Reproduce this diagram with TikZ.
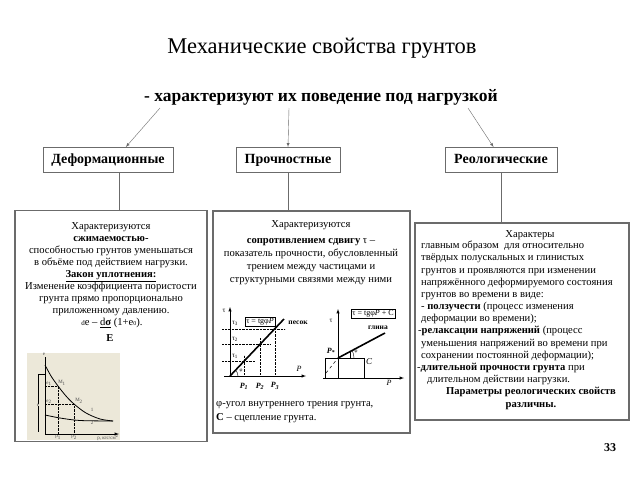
\documentclass[tikz,border=0pt]{standalone}
\usepackage{fontspec}
\setmainfont{Liberation Serif}
\usetikzlibrary{shapes.geometric, arrows}
\definecolor{frame-gray}{gray}{0.42}
\definecolor{paper-beige}{RGB}{236,232,217}

\begin{document}
\begin{tikzpicture}[x=1pt, y=-1pt,
  kindbox/.style={draw=frame-gray, line width=0.9pt, inner sep=0pt, minimum height=25, text height=9.5pt, text depth=3pt, font=\fontsize{14}{16}\selectfont\bfseries},
  panel/.style={draw=frame-gray, line width=1.3pt, inner sep=0pt},
  body/.style={inner sep=0pt, font=\fontsize{10.6}{12}\selectfont},
  graphlabel/.style={inner sep=0.5pt, font=\fontsize{7}{8}\selectfont},
  tinylabel/.style={inner sep=0pt, font=\fontsize{5}{6}\selectfont, text=black!70},
  guideline/.style={densely dotted, line width=0.4pt}]
 \useasboundingbox (0,0) rectangle (640,480);
 \fill[white] (0,0) rectangle (640,480);

 %titles
 \node (title) at (322,48) {\fontsize{22.5}{26}\selectfont Механические свойства грунтов};
 \node (subtitle) at (321,97) [font=\fontsize{17.5}{20}\selectfont\bfseries] {- характеризуют их поведение под нагрузкой};
 \coordinate (fromleft) at (160,108);
 \coordinate (frommid) at (289,108);
 \coordinate (fromright) at (468,108);

 %kinds of properties
 \node (deform) [kindbox, minimum width=130] at (108,160) {Деформационные};
 \node (strength) [kindbox, minimum width=104] at (288,160) {Прочностные};
 \node (rheol) [kindbox, minimum width=112] at (501,160) {Реологические};
 \draw [-latex, frame-gray] (fromleft) -- (deform.36);
 \draw [-latex, frame-gray] (frommid) -- (strength.north);
 \draw [-latex, frame-gray] (fromright) -- (rheol.120);

 %panels
 \node (deformpanel) [panel, minimum width=192, minimum height=231] at (111,326) {};
 \node (strengthpanel) [panel, minimum width=197, minimum height=222] at (311.5,322) {};
 \node (rheolpanel) [panel, minimum width=214, minimum height=197] at (522,321.5) {};
 \draw [frame-gray] (deform.-50) -- (deform.-50 |- deformpanel.north);
 \draw [frame-gray] (strength.south) -- (strength.south |- strengthpanel.north);
 \draw [frame-gray] (rheol.south) -- (rheol.south |- rheolpanel.north);

 %deformation text
 \node (deformtext) [body, align=center, anchor=north] at (111,222.5) {Характеризуются\\ \textbf{сжимаемостью-}\\ способностью грунтов уменьшаться\\ в объёме под действием нагрузки.\\ \textbf{\underline{Закон уплотнения:}}\\ Изменение коэффициента пористости\\ грунта прямо пропорционально\\ приложенному давлению.};
 \node (lawformula) [body] at (112,323) {{\fontsize{7}{8}\selectfont d}e -- \underline{d\textbf{σ}} (1+e{\fontsize{6}{7}\selectfont 0}).};
 \node (lawmodulus) [body, font=\fontsize{10.6}{12}\selectfont\bfseries] at (110,338) {E};

 %compression curve
 \fill [paper-beige] (27,353) rectangle (120,440);
 \draw [line width=0.5pt] (45,434) -- (45,357);
 \draw [-latex, line width=0.5pt] (45,434) -- (119,434);
 \draw [line width=0.4pt] (38,374) -- (38,432);
 \draw [line width=0.4pt] (38,374) -- (45,374);
 \draw [line width=0.8pt] plot [smooth] coordinates {(45,365) (51,376) (58,386) (66,396) (74,404) (86,413) (100,419) (113,421)};
 \draw [line width=0.8pt] plot [smooth] coordinates {(45,415) (60,418) (80,420.5) (113,421)};
 \draw [guideline] (45,386) -- (58,386) -- (58,434);
 \draw [guideline] (45,404) -- (74,404) -- (74,434);
 \node (axise) [tinylabel] at (44,354) {e};
 \node (bracke) [tinylabel, fill=paper-beige] at (38,405) {e};
 \node (epsone) [tinylabel] at (49,384) {e\textsubscript{1}};
 \node (epstwo) [tinylabel] at (49,402) {e\textsubscript{2}};
 \node (pointone) [tinylabel] at (62,383) {M\textsubscript{1}};
 \node (pointtwo) [tinylabel] at (79,401) {M\textsubscript{2}};
 \node (curveone) [tinylabel] at (92,410) {1};
 \node (curvetwo) [tinylabel] at (92,423) {2};
 \node (pone) [tinylabel] at (58,437.5) {p\textsubscript{1}};
 \node (ptwo) [tinylabel] at (74,437.5) {p\textsubscript{2}};
 \node (punit) [tinylabel] at (108,437.5) {p, кгс/см\textsuperscript{2}};

 %strength text
 \node (strengthtext) [body, align=center, anchor=north, font=\fontsize{10.6}{13.2}\selectfont] at (311,220.5) {Характеризуются\\[2.5pt] \textbf{сопротивлением сдвигу} τ --\\ показатель прочности, обусловленный\\ трением между частицами и\\ структурными связями между ними};
 \node (frictiontext) [body, align=left, anchor=north west, font=\fontsize{10.6}{14}\selectfont] at (216,401) {φ-угол внутреннего трения грунта,\\ \textbf{C} -- сцепление грунта.};

 %sand
 \draw [-latex, line width=0.5pt] (230,376) -- (230,307);
 \draw [-latex, line width=0.5pt] (224,376) -- (306,376);
 \draw [guideline] (222,329) -- (285,329);
 \draw [guideline] (222,344) -- (270,344);
 \draw [guideline] (222,361) -- (255,361);
 \draw [guideline] (244,376) -- (244,355);
 \draw [guideline] (260,376) -- (260,338);
 \draw [guideline] (275,376) -- (275,322);
 \draw [line width=1.6pt] (230,376) -- (284,319);
 \draw [line width=0.4pt] (238,376) arc [start angle=0, end angle=-46, radius=8];
 \node (sandlaw) [draw, line width=0.5pt, inner sep=1.2pt, font=\fontsize{8}{9}\selectfont] at (260,322) {τ = tgφ\textit{P}};
 \node (sand) [graphlabel, font=\fontsize{7.5}{8}\selectfont\bfseries] at (298,323) {песок};
 \node (tauaxis) [graphlabel] at (224,311) {τ};
 \node (tauthree) [graphlabel] at (235,323.5) {τ\textsubscript{3}};
 \node (tautwo) [graphlabel] at (235,339) {τ\textsubscript{2}};
 \node (tauone) [graphlabel] at (235,356) {τ\textsubscript{1}};
 \node (sandphi) [graphlabel, font=\fontsize{5}{6}\selectfont] at (241,371) {φ};
 \node (pressone) [graphlabel, font=\fontsize{8}{9}\selectfont\itshape\bfseries] at (244,386) {P\textsubscript{1}};
 \node (presstwo) [graphlabel, font=\fontsize{8}{9}\selectfont\itshape\bfseries] at (260,386) {P\textsubscript{2}};
 \node (pressthree) [graphlabel, font=\fontsize{8}{9}\selectfont\itshape\bfseries] at (275,386) {P\textsubscript{3}};
 \node (sandp) [graphlabel, font=\fontsize{8}{9}\selectfont\itshape] at (299,369) {P};

 %clay
 \draw [-latex, line width=0.5pt] (338,378) -- (338,309);
 \draw [-latex, line width=0.5pt] (323,378) -- (404,378);
 \draw [line width=0.5pt] (325,378) -- (325,358) -- (364,358) -- (364,378);
 \draw [dashed, line width=0.5pt] (326,373) -- (338,358);
 \draw [line width=1.6pt] (338,358) -- (385,333);
 \draw [line width=0.4pt] (354,358) arc [start angle=0, end angle=-28, radius=16];
 \draw [line width=0.4pt] (350,352) -- (350,358);
 \node (claylaw) [draw, line width=0.5pt, inner sep=1.2pt, font=\fontsize{8}{9}\selectfont] at (373,314) {τ = tgφ\textit{P} + C};
 \node (clay) [graphlabel, font=\fontsize{7.5}{8}\selectfont\bfseries] at (378,328) {глина};
 \node (clayaxis) [graphlabel] at (331,321) {τ};
 \node (claystart) [graphlabel, font=\fontsize{8}{9}\selectfont\itshape\bfseries] at (331,351) {P\textsubscript{*}};
 \node (clayphi) [graphlabel, font=\fontsize{5}{6}\selectfont] at (356,352) {φ};
 \node (cohesion) [graphlabel, font=\fontsize{9}{10}\selectfont\itshape] at (369,362) {C};
 \node (clayp) [graphlabel, font=\fontsize{8}{9}\selectfont\itshape] at (389,383) {P};

 %rheology text
 \node (rheolhead) [body] at (530,235) {Характеры};
 \node (rheoltext) [body, align=left, anchor=north west, font=\fontsize{10.6}{12.2}\selectfont] at (421,241) {главным образом \ для относительно\\ твёрдых полускальных и глинистых\\ грунтов и проявляются при изменении\\ напряжённого деформируемого состояния\\ грунтов во времени в виде:\\ - \textbf{ползучести} (процесс изменения\\ деформации во времени);};
 \node (relaxtext) [body, align=left, anchor=north west, font=\fontsize{10.6}{12.2}\selectfont] at (418,326.4) {-\textbf{релаксации напряжений} (процесс\\ \hspace*{3pt}уменьшения напряжений во времени при\\ \hspace*{3pt}сохранении постоянной деформации);};
 \node (longtext) [body, align=left, anchor=north west, font=\fontsize{10.6}{12.2}\selectfont] at (417,363) {-\textbf{длительной прочности грунта} при\\ \hspace*{10pt}длительном действии нагрузки.};
 \node (rheolfoot) [body, align=center, anchor=north, font=\fontsize{10.6}{12.2}\selectfont\bfseries] at (531,387.4) {Параметры реологических свойств\\ различны.};

 %page number
 \node (pagenum) [font=\fontsize{12}{14}\selectfont\bfseries] at (610,448) {33};
\end{tikzpicture}
\end{document}
